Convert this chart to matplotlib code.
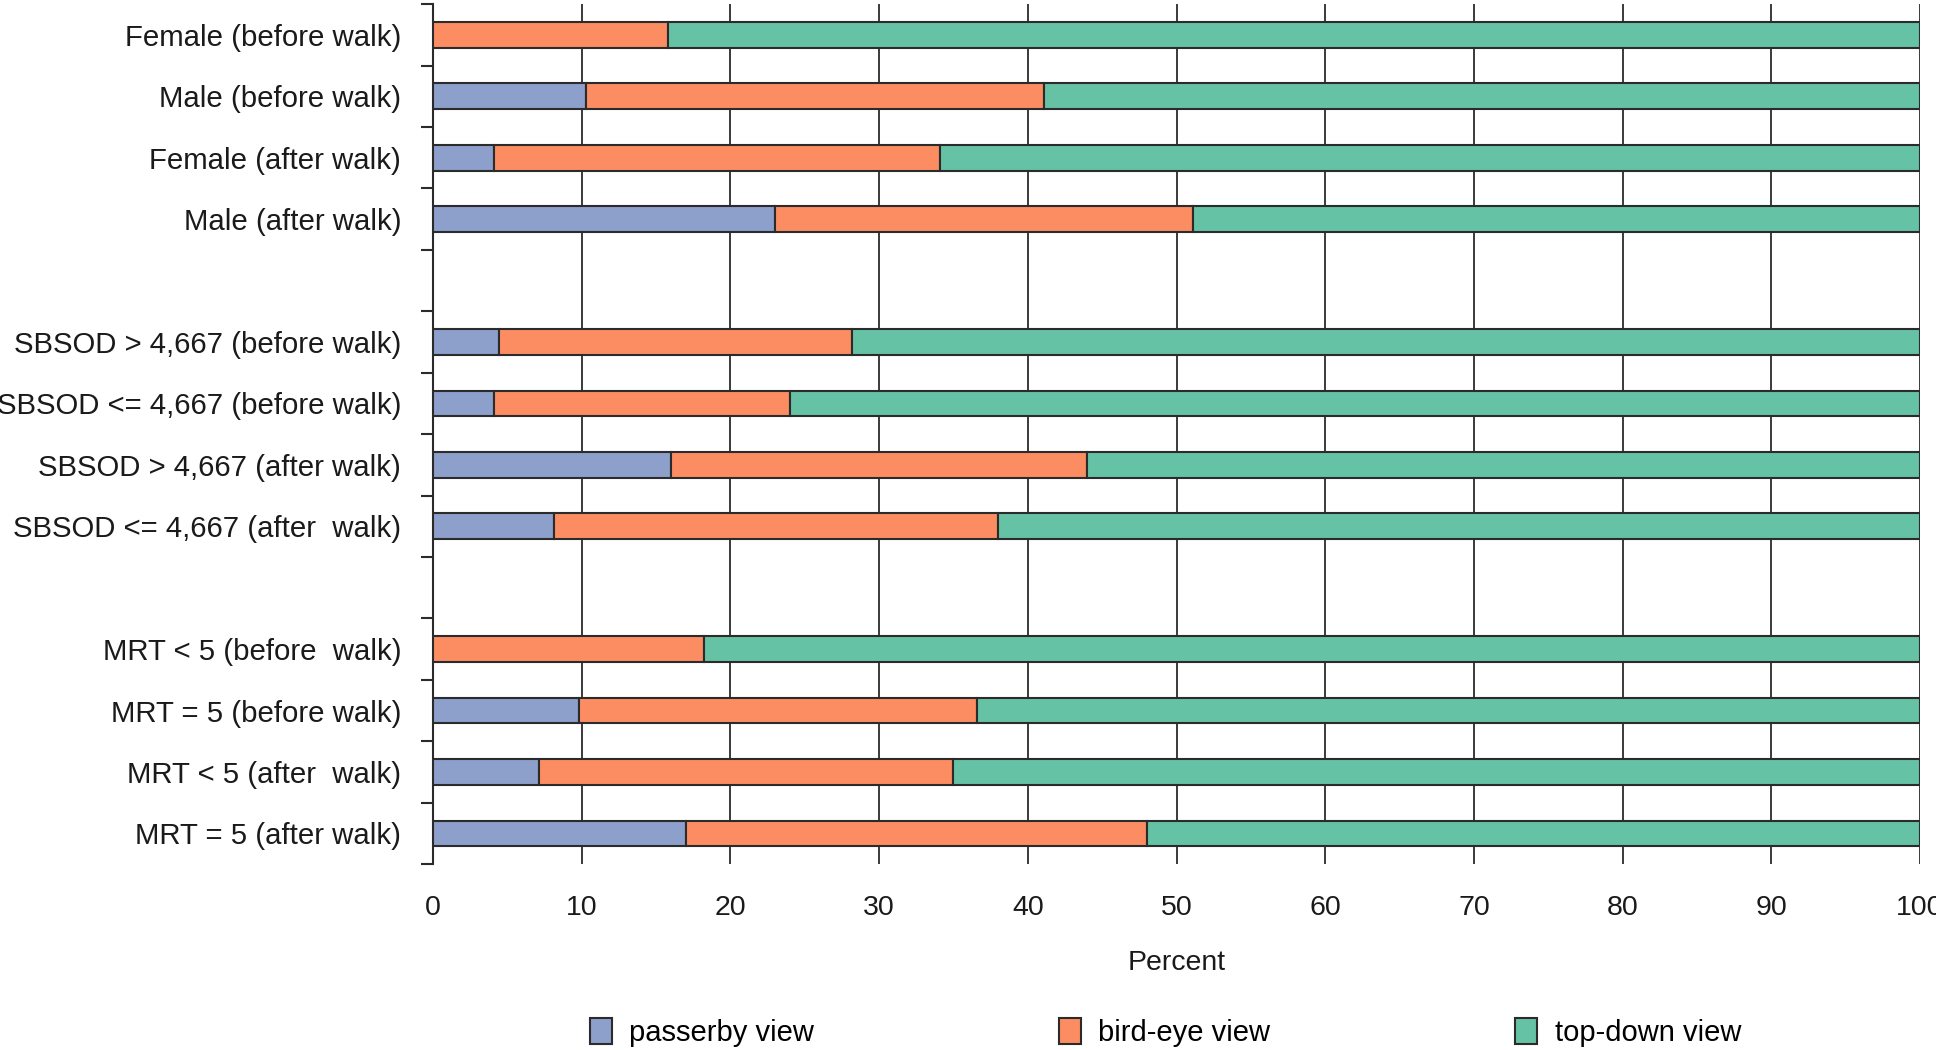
import numpy as np
import matplotlib
matplotlib.use('Agg')
import matplotlib.pyplot as plt

plt.rcParams['font.family'] = ['Liberation Sans', 'DejaVu Sans']

# rows from top to bottom, None = empty spacer slot
labels = ['Female (before walk)', 'Male (before walk)', 'Female (after walk)', 'Male (after walk)',
          None,
          'SBSOD > 4,667 (before walk)', 'SBSOD <= 4,667 (before walk)',
          'SBSOD > 4,667 (after walk)', 'SBSOD <= 4,667 (after  walk)',
          None,
          'MRT < 5 (before  walk)', 'MRT = 5 (before walk)', 'MRT < 5 (after  walk)', 'MRT = 5 (after walk)']

passerby = [0, 10.3, 4.1, 23.0, None, 4.4, 4.1, 16.0, 8.1, None, 0, 9.8, 7.1, 17.0]
birdeye = [15.8, 30.8, 30.0, 28.1, None, 23.8, 19.9, 28.0, 29.9, None, 18.2, 26.8, 27.9, 31.0]
topdown = [84.2, 58.9, 65.9, 48.9, None, 71.8, 76.0, 56.0, 62.0, None, 81.8, 63.4, 65.0, 52.0]

series = [('passerby view', passerby, '#8da0cb'),
          ('bird-eye view', birdeye, '#fc8d62'),
          ('top-down view', topdown, '#66c2a5')]

fig = plt.figure(figsize=(19.36, 10.5), dpi=100)
ax = fig.add_axes([0.2237, 0.177, 0.768, 0.819])

n = len(labels)
ypos = np.arange(n)
keep = [i for i in range(n) if labels[i] is not None]

left = np.zeros(len(keep))
for name, vals, color in series:
    v = np.array([vals[i] for i in keep], dtype=float)
    ax.barh(ypos[keep], v, left=left, height=0.42, color=color,
            edgecolor='#2b2b2b', linewidth=1.5, label=name, zorder=3)
    left += v

ax.set_xlim(0, 100)
ax.set_ylim(n - 0.5, -0.5)
ax.set_xticks(np.arange(0, 101, 10))
ax.xaxis.grid(True, color='#2b2b2b', linewidth=1.3, zorder=0)
ax.tick_params(axis='x', length=0, labelsize=20.5, pad=22, colors='#1a1a1a')

ax.set_yticks(ypos[keep])
ax.set_yticklabels([labels[i] for i in keep], fontsize=21.2, color='#1a1a1a')
ax.set_yticks(np.arange(-0.5, n, 1), minor=True)
ax.tick_params(axis='y', which='major', length=0, pad=23)
ax.tick_params(axis='y', which='minor', length=9, width=1.5, color='#2b2b2b')

for s in ['top', 'right', 'bottom']:
    ax.spines[s].set_visible(False)
ax.spines['left'].set_linewidth(1.5)
ax.spines['left'].set_color('#2b2b2b')

ax.set_xlabel('Percent', fontsize=20.5, labelpad=21, color='#1a1a1a')

fig.legend(loc='lower center', bbox_to_anchor=(0.602, -0.022), ncol=3, frameon=False,
           fontsize=21, handlelength=0.75, handleheight=1.0, handletextpad=0.6,
           columnspacing=8.4)

fig.savefig('out.png', dpi=100)
